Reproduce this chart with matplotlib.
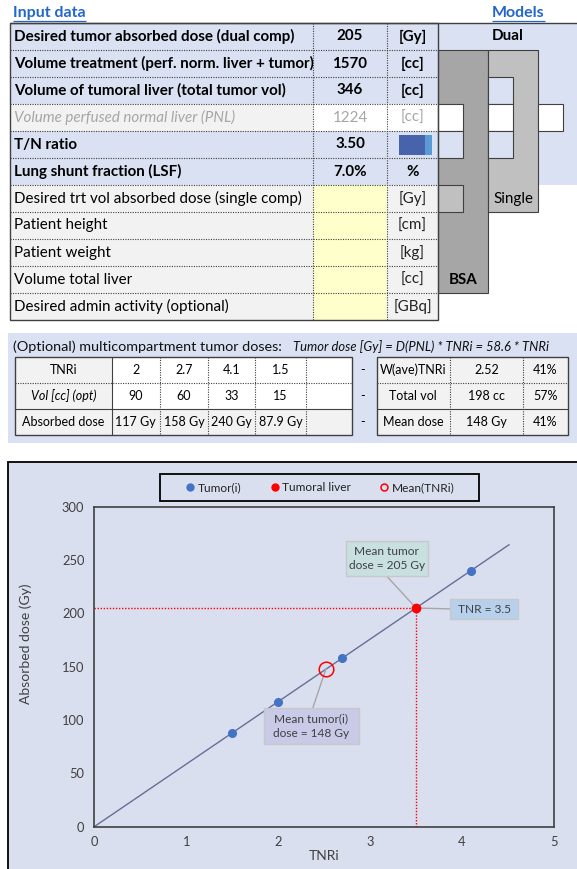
import matplotlib.pyplot as plt
from matplotlib.lines import Line2D
from matplotlib.patches import Rectangle

plt.rcParams['font.family'] = ['Lato', 'DejaVu Sans']

# input sheet
input_labels = [
    'Desired tumor absorbed dose (dual comp)',
    'Volume treatment (perf. norm. liver + tumor)',
    'Volume of tumoral liver (total tumor vol)',
    'Volume perfused normal liver (PNL)',
    'T/N ratio',
    'Lung shunt fraction (LSF)',
    'Desired trt vol absorbed dose (single comp)',
    'Patient height',
    'Patient weight',
    'Volume total liver',
    'Desired admin activity (optional)',
]
input_values = ['205', '1570', '346', '1224', '3.50', '7.0%', '', '', '', '', '']
input_units = ['[Gy]', '[cc]', '[cc]', '[cc]', '', '%', '[Gy]', '[cm]', '[kg]', '[cc]', '[GBq]']
tn_ratio = 3.50

# multicompartment tumors
tnri = [2, 2.7, 4.1, 1.5]
tumor_vol = [90, 60, 33, 15]
tumor_dose = [117, 158, 240, 87.9]
d_pnl = 58.6
summary_labels = ['W(ave)TNRi', 'Total vol', 'Mean dose']
summary_values = ['2.52', '198 cc', '148 Gy']
summary_pct = ['41%', '57%', '41%']

# chart
target_tnr = 3.5
target_dose = 205
mean_tnri = 2.52
mean_dose = 148
line_x = [0, 4.51]
line_y = [0, 264.3]

W, H = 577, 869
BLUE = '#D9E1F2'
GREY_CELL = '#F2F2F2'
YELLOW = '#FFFFCC'
DARK = '#A6A6A6'
LIGHT = '#C0C0C0'
CHART_BG = '#DADFEF'
LINK = '#2266CC'
EDGE = '#404040'
TXT = '#404040'

FS = 10.9      # input table
FS2 = 9.0      # small tables

fig = plt.figure(figsize=(W / 100, H / 100), dpi=100)
page = fig.add_axes([0, 0, 1, 1])
page.set_xlim(0, W)
page.set_ylim(H, 0)
page.axis('off')


def box(x0, y0, x1, y1, color, edge='none', lw=0.8, z=1):
    page.add_patch(Rectangle((x0, y0), x1 - x0, y1 - y0, facecolor=color,
                             edgecolor=edge, lw=lw, zorder=z))


def line(xs, ys, dotted=False, lw=0.8, color=EDGE, z=3):
    ls = (0, (1, 1.2)) if dotted else '-'
    page.plot(xs, ys, color=color, lw=lw, ls=ls, zorder=z, solid_capstyle='butt')


def link_title(x, y, text):
    t = page.text(x, y, text, fontsize=11.5, fontweight='bold', color=LINK,
                  va='center', ha='left')
    fig.canvas.draw()
    bb = t.get_window_extent().transformed(page.transData.inverted())
    line([bb.x0, bb.x1], [y + 7.5, y + 7.5], lw=0.9, color=LINK)


# ---- input table ----
link_title(13, 13, 'Input data')
link_title(492, 13, 'Models')

top, row_h = 23, 27
cols = [10, 313, 387, 438]
row_kind = ['key', 'key', 'key', 'derived', 'key', 'key',
            'opt', 'opt', 'opt', 'opt', 'opt']

for i, kind in enumerate(row_kind):
    y0 = top + i * row_h
    y1 = y0 + row_h
    yc = y0 + row_h / 2
    if kind == 'key':
        box(cols[0], y0, cols[3], y1, BLUE)
        lab = dict(fontweight='bold', color='black')
        val = dict(fontweight='bold', color='black')
        unit = dict(fontweight='bold', color='black')
    elif kind == 'derived':
        box(cols[0], y0, cols[1], y1, GREY_CELL)
        box(cols[1], y0, cols[3], y1, 'white')
        lab = dict(fontstyle='italic', color='#A6A6A6')
        val = dict(color='#A6A6A6')
        unit = dict(color='#A6A6A6')
    else:
        box(cols[0], y0, cols[1], y1, GREY_CELL)
        box(cols[1], y0, cols[2], y1, YELLOW)
        box(cols[2], y0, cols[3], y1, GREY_CELL)
        lab = dict(color='black')
        val = dict(color='black')
        unit = dict(color='#222222')
    page.text(cols[0] + 4, yc, input_labels[i], fontsize=FS, va='center', **lab)
    page.text((cols[1] + cols[2]) / 2, yc, input_values[i], fontsize=FS,
              ha='center', va='center', **val)
    page.text((cols[2] + cols[3]) / 2, yc, input_units[i], fontsize=FS,
              ha='center', va='center', **unit)
    if i > 0:
        line([cols[0], cols[3]], [y0, y0], dotted=True)

bottom = top + row_h * len(input_labels)
for x in cols[1:3]:
    line([x, x], [top, bottom], dotted=True)

# T/N data bar
tn_ax = fig.add_axes([399 / W, 1 - 155 / H, 33 / W, 20 / H])
tn_ax.barh(0, tn_ratio, height=1, color='#4663AC', left=0)
tn_ax.barh(0, tn_ratio * 0.22, height=1, color='#5B9BD5', left=tn_ratio * 0.78)
tn_ax.set_xlim(0, tn_ratio)
tn_ax.set_ylim(-0.5, 0.5)
tn_ax.axis('off')

# ---- models panel ----
box(cols[3], top, W, top + row_h * 6, BLUE)
page.text((cols[3] + W) / 2, top + row_h / 2, 'Dual', fontsize=FS,
          fontweight='bold', ha='center', va='center')

r = lambda k: top + k * row_h
box(438, r(1), 488, r(10), DARK, edge=EDGE, z=2)
box(488, r(1), 538, r(7), LIGHT, edge=EDGE, z=2)
notches = [(438, 3, 'white'), (438, 4, BLUE), (438, 6, LIGHT),
           (488, 2, BLUE), (488, 3, 'white'), (488, 4, BLUE),
           (538, 3, 'white')]
for x0, k, c in notches:
    box(x0, r(k), x0 + 25, r(k + 1), c, edge=EDGE, z=2)
page.text(463, r(9) + row_h / 2, 'BSA', fontsize=FS, fontweight='bold',
          ha='center', va='center', zorder=4)
page.text(513, r(6) + row_h / 2, 'Single', fontsize=FS,
          ha='center', va='center', zorder=4)

box(cols[0], top, cols[3], bottom, 'none', edge=EDGE, lw=1.0, z=3)
line([cols[0], W], [top, top], lw=1.0)

# ---- multicompartment doses ----
box(8, 333, W + 2, 443, BLUE)
page.text(13, 347, '(Optional) multicompartment tumor doses:', fontsize=10.4,
          va='center', color='#111111')
page.text(293, 347, f'Tumor dose [Gy] = D(PNL) * TNRi = {d_pnl} * TNRi',
          fontsize=9.4, fontstyle='italic', va='center', color='#111111')

mx = [15, 111.7, 160, 208, 255, 306, 351.7]
my = [357, 383, 409, 435]
box(mx[0], my[0], mx[1], my[3], GREY_CELL)
box(mx[1], my[0], mx[6], my[2], 'white')
box(mx[1], my[2], mx[6], my[3], GREY_CELL)
row_names = ['TNRi', 'Vol [cc] (opt)', 'Absorbed dose']
rows = [[f'{v:g}' for v in tnri],
        [f'{v:g}' for v in tumor_vol],
        [f'{v:.3g} Gy' for v in tumor_dose]]
for j in range(3):
    yc = (my[j] + my[j + 1]) / 2
    page.text((mx[0] + mx[1]) / 2, yc, row_names[j], fontsize=FS2, ha='center',
              va='center', fontstyle='italic' if j == 1 else 'normal')
    for k, txt in enumerate(rows[j]):
        page.text((mx[k + 1] + mx[k + 2]) / 2, yc, txt, fontsize=FS2,
                  ha='center', va='center')
    page.text(363, yc, '-', fontsize=FS2, ha='center', va='center')
line([mx[0], mx[6]], [my[1]] * 2, dotted=True)
line([mx[0], mx[6]], [my[2]] * 2)
line([mx[1], mx[1]], [my[0], my[3]])
for x in mx[2:6]:
    line([x, x], [my[0], my[3]], dotted=True)
box(mx[0], my[0], mx[6], my[3], 'none', edge=EDGE, lw=1.0, z=3)

sx = [376.7, 450, 523, 568]
box(sx[0], my[0], sx[3], my[3], GREY_CELL)
for j in range(3):
    yc = (my[j] + my[j + 1]) / 2
    for k, txt in enumerate([summary_labels[j], summary_values[j], summary_pct[j]]):
        page.text((sx[k] + sx[k + 1]) / 2, yc, txt, fontsize=FS2,
                  ha='center', va='center')
line([sx[0], sx[3]], [my[1]] * 2, dotted=True)
line([sx[0], sx[3]], [my[2]] * 2)
for x in sx[1:3]:
    line([x, x], [my[0], my[3]], dotted=True)
box(sx[0], my[0], sx[3], my[3], 'none', edge=EDGE, lw=1.0, z=3)

# ---- chart ----
box(7.5, 462, W + 20, H + 20, CHART_BG, edge='black', lw=1.3)
box(160, 474, 479, 501, 'none', edge='black', lw=1.3, z=3)

ax = fig.add_axes([94.2 / W, (H - 826.7) / H, 459.8 / W, 320 / H])
ax.set_facecolor('none')
ax.set_xlim(0, 5)
ax.set_ylim(0, 300)
ax.set_xticks(range(6))
ax.set_yticks(range(0, 301, 50))
ax.tick_params(length=0, labelsize=9.3, colors=TXT, pad=7)
for s in ax.spines.values():
    s.set_color(EDGE)
    s.set_linewidth(1.2)
ax.set_xlabel('TNRi', fontsize=10, color=TXT, labelpad=1)
ax.set_ylabel('Absorbed dose (Gy)', fontsize=10, color=TXT)
ax.yaxis.set_label_coords(-0.135, 0.571)

ax.plot(line_x, line_y, color='#666E96', lw=1.0, zorder=2)
ax.plot([0, target_tnr], [target_dose, target_dose], color='red', lw=1.0,
        ls=(0, (1, 1.2)), zorder=2)
ax.plot([target_tnr, target_tnr], [0, target_dose], color='red', lw=1.0,
        ls=(0, (1, 1.2)), zorder=2)

# label boxes: centre x, centre y, width, height (data units)
labels = [
    ('Mean tumor\ndose = 205 Gy', 3.183, 251.6, 0.898, 32.5, '#C9E0E1',
     (3.18, 235.0), (target_tnr, target_dose)),
    ('TNR = 3.5', 4.239, 203.9, 0.742, 18.5, '#B7D0EC',
     (3.868, 204.2), (target_tnr, target_dose)),
    ('Mean tumor(i)\ndose = 148 Gy', 2.361, 94.1, 1.033, 33.8, '#C8CAE8',
     (2.376, 111.0), (mean_tnri, mean_dose)),
]
for text, cx, cy, w, h, fc, start, end in labels:
    ax.plot([start[0], end[0]], [start[1], end[1]], color='#A6A6A6', lw=1.0, zorder=3)
    ax.add_patch(Rectangle((cx - w / 2, cy - h / 2), w, h, facecolor=fc,
                           edgecolor='#C8C8C8', lw=1.0, zorder=4))
    ax.text(cx, cy, text, fontsize=8.6, color=TXT, ha='center',
            va='center', linespacing=1.35, zorder=5)

ax.plot(tnri, tumor_dose, 'o', color='#4472C4', ms=5.5, zorder=6)
ax.plot([mean_tnri], [mean_dose], 'o', mfc='none', mec='red', mew=1.1,
        ms=10.5, zorder=6)
ax.plot([target_tnr], [target_dose], 'o', color='red', ms=6, zorder=7)

handles = [
    Line2D([], [], ls='', marker='o', color='#4472C4', ms=5),
    Line2D([], [], ls='', marker='o', color='red', ms=5),
    Line2D([], [], ls='', marker='o', mfc='none', mec='red', mew=1.1, ms=5),
]
fig.legend(handles, ['Tumor(i)', 'Tumoral liver', 'Mean(TNRi)'], loc='center',
           bbox_to_anchor=(321 / W, 1 - 487.7 / H), ncol=3, frameon=False,
           fontsize=8.6, handlelength=0.5, handletextpad=0.4, columnspacing=2.5,
           labelcolor='#222222')

fig.savefig('out.png', dpi=100)
